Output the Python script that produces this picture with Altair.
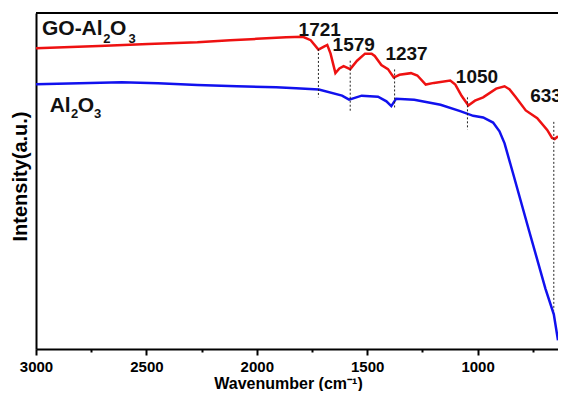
import altair as alt
import pandas as pd

# GO-Al2O3 spectrum (wavenumber cm-1, intensity a.u.)
red_wn = [3000, 2715, 2492, 2269, 2121, 2001, 1867, 1791, 1756, 1721, 1698, 1681, 1666, 1644,
          1626, 1607, 1577, 1546, 1510, 1480, 1466, 1436, 1406, 1380, 1354, 1302, 1273, 1235,
          1198, 1124, 1101, 1072, 1042, 1012, 975, 916, 878, 856, 827, 782, 730, 685, 663, 651, 636]
red_int = [89.5, 90.2, 90.8, 91.3, 91.9, 92.3, 92.8, 92.9, 91.9, 89.1, 89.9, 90.5, 87.9, 82.1,
           83.5, 84.2, 83.3, 85.8, 87.9, 87.9, 87.2, 84.5, 83.3, 80.8, 81.6, 82.1, 81.4, 78.7,
           79.2, 79.9, 78.7, 75.3, 72.5, 73.9, 74.9, 77.5, 78.2, 77.3, 74.9, 71.0, 68.7, 65.2, 62.8, 62.5, 63.3]

# Al2O3 spectrum
blue_wn = [3000, 2804, 2612, 2447, 2269, 2090, 1912, 1822, 1719, 1614, 1582, 1525, 1451, 1413,
           1391, 1369, 1287, 1168, 1079, 1020, 975, 930, 901, 878, 841, 767, 693, 655, 636]
blue_int = [78.8, 79.1, 79.4, 79.1, 78.6, 78.2, 77.9, 77.6, 77.2, 75.4, 74.2, 75.4, 75.1, 73.7,
            72.3, 74.5, 74.2, 72.7, 70.8, 69.4, 68.9, 67.4, 64.8, 61.2, 52.6, 35.2, 18.0, 10.3, 2.6]

# dotted peak markers
peak_wn = [1721, 1577, 1376, 1046, 655]
peak_top = [89.3, 85.8, 83.2, 74.9, 67.6]
peak_bottom = [74.9, 70.5, 71.4, 65.3, 11.5]

# peak labels
peak_labels = ["1721", "1579", "1237", "1050", "633"]
label_wn = [1715, 1561, 1322, 1003, 690]
label_int = [93.2, 88.8, 85.9, 79.2, 73.4]

# series name labels (split for subscripts)
name_text = ["GO-Al", "2", "O", "3", "Al", "2", "O", "3"]
name_wn = [2973, 2695, 2665, 2581, 2938, 2841, 2811, 2737]
name_int = [93.6, 90.95, 93.6, 90.95, 70.5, 68.8, 70.5, 68.8]
name_size = [21, 13, 21, 13, 21, 13, 21, 13]

x_ticks = [3000, 2750, 2500, 2250, 2000, 1750, 1500, 1250, 1000, 750]

red_df = pd.DataFrame({"wn": red_wn, "I": red_int})
blue_df = pd.DataFrame({"wn": blue_wn, "I": blue_int})
peak_df = pd.DataFrame({"wn": peak_wn, "top": peak_top, "bottom": peak_bottom})
lab_df = pd.DataFrame({"wn": label_wn, "I": label_int, "t": peak_labels})
name_df = pd.DataFrame({"wn": name_wn, "I": name_int, "t": name_text, "fs": name_size})

FONT = "Liberation Sans"
W, H = 522, 336

xscale = alt.Scale(domain=[3000, 636], nice=False, zero=False)
yscale = alt.Scale(domain=[0, 100], nice=False, zero=False)

xaxis = alt.Axis(
    values=x_ticks, format="d",
    labelExpr="datum.value % 500 === 0 ? datum.label : ''",
    tickSize={"condition": {"test": "datum.value % 500 === 0", "value": 6}, "value": 3},
    tickWidth=2, tickColor="black", domainWidth=2, domainColor="black",
    labelFont=FONT, labelFontSize=15, labelFontWeight="bold", labelColor="black",
    labelPadding=4, labelFlush=False,
    title="Wavenumber (cm⁻¹)", titleFont=FONT, titleFontSize=16, titleFontWeight="bold",
    titleColor="black", titleX=252, titleY=39, titleAlign="center", titleBaseline="alphabetic",
    grid=False,
)
yaxis = alt.Axis(
    labels=False, ticks=False, grid=False, domainWidth=2, domainColor="black",
    title="Intensity(a.u.)", titleFont=FONT, titleFontSize=20, titleFontWeight="bold",
    titleColor="black", titleX=-16, titleY=163, titleAlign="center", titleBaseline="middle",
    titleAngle=270,
)

red = alt.Chart(red_df).mark_line(color="#ee1111", strokeWidth=2.5).encode(
    x=alt.X("wn:Q", scale=xscale, axis=xaxis),
    y=alt.Y("I:Q", scale=yscale, axis=yaxis),
)
blue = alt.Chart(blue_df).mark_line(color="#1111ee", strokeWidth=2.5).encode(
    x=alt.X("wn:Q", scale=xscale),
    y=alt.Y("I:Q", scale=yscale),
)
peaks = alt.Chart(peak_df).mark_rule(color="#222", strokeWidth=1, strokeDash=[2, 2]).encode(
    x=alt.X("wn:Q", scale=xscale),
    y=alt.Y("top:Q", scale=yscale),
    y2="bottom:Q",
)
labels = alt.Chart(lab_df).mark_text(
    font=FONT, fontSize=19, fontWeight="bold", color="#111",
    align="center", baseline="alphabetic",
).encode(
    x=alt.X("wn:Q", scale=xscale),
    y=alt.Y("I:Q", scale=yscale),
    text="t:N",
)
names = alt.Chart(name_df).mark_text(
    font=FONT, fontWeight="bold", color="#111", align="left", baseline="alphabetic",
).encode(
    x=alt.X("wn:Q", scale=xscale),
    y=alt.Y("I:Q", scale=yscale),
    text="t:N",
    size=alt.Size("fs:Q", scale=None, legend=None),
)
top_border = alt.Chart(red_df).mark_rule(color="black", strokeWidth=2).encode(
    x=alt.value(0), x2=alt.value(W), y=alt.value(0)
)

chart = alt.layer(red, blue, peaks, labels, names, top_border).properties(
    width=W, height=H,
    autosize=alt.AutoSizeParams(type="none"),
    padding={"left": 28, "top": 5, "right": 0, "bottom": 42},
).configure_view(stroke=None).configure(background="white")

chart.save("out.html", embed_options={"renderer": "svg", "actions": False})
